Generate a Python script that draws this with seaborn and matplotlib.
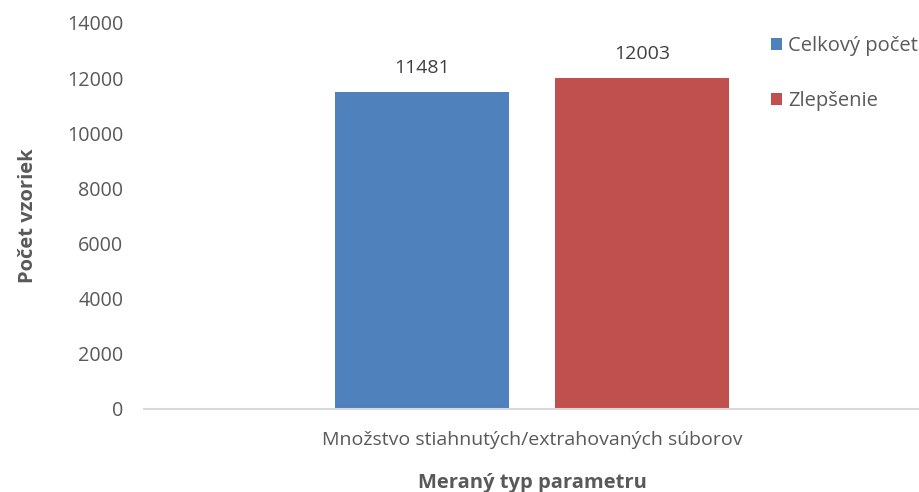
import matplotlib
matplotlib.use("Agg")
import matplotlib.pyplot as plt
import seaborn as sns
import pandas as pd

categories = ["Množstvo stiahnutých/extrahovaných súborov"]
series_names = ["Celkový počet", "Zlepšenie"]
values_celkovy = [11481]
values_zlepsenie = [12003]
yticks = [0, 2000, 4000, 6000, 8000, 10000, 12000, 14000]
colors = ["#4F81BD", "#C0504D"]

df = pd.DataFrame({
    "kategoria": categories * 2,
    "seria": [series_names[0]] * len(categories) + [series_names[1]] * len(categories),
    "hodnota": values_celkovy + values_zlepsenie,
})

sns.set_theme(style="white")
plt.rcParams["font.family"] = ["Open Sans", "DejaVu Sans"]
txt = "#595959"

fig = plt.figure(figsize=(9.2, 4.92), dpi=100)
ax = fig.add_axes([144/920, 1-409/492, (920-144)/920, (409-23)/492])

sns.barplot(data=df, x="kategoria", y="hodnota", hue="seria",
            palette=colors, width=0.567, gap=0.21, ax=ax,
            saturation=1, edgecolor="none", legend=True)

ax.set_xlim(-0.5, 0.5)
ax.set_ylim(0, 14000)
ax.set_yticks(yticks)
ax.set_yticklabels([str(v) for v in yticks], fontsize=14.2, color=txt)
ax.tick_params(axis="x", labelsize=14, colors=txt, length=0, pad=16)
ax.tick_params(axis="y", length=0, pad=15)
for s in ["top", "right", "left"]:
    ax.spines[s].set_visible(False)
ax.spines["bottom"].set_color("#D9D9D9")
ax.spines["bottom"].set_linewidth(1.5)

for cont in ax.containers:
    ax.bar_label(cont, labels=[f"{int(v)}" for v in cont.datavalues],
                 padding=11, fontsize=14, color="#404040")

ax.set_ylabel("Počet vzoriek", fontsize=14.5, fontweight="bold", color=txt, labelpad=21)
ax.set_xlabel("Meraný typ parametru", fontsize=14.5, fontweight="bold", color=txt, labelpad=17)

leg = ax.legend(loc="upper left", bbox_to_anchor=(771/920, 1-36/492),
                bbox_transform=fig.transFigure, frameon=False,
                fontsize=14.5, labelspacing=1.75, handlelength=0.55,
                handleheight=0.55, handletextpad=0.3, borderaxespad=0, borderpad=0)
for t in leg.get_texts():
    t.set_color(txt)

fig.savefig("out.png", dpi=100)
